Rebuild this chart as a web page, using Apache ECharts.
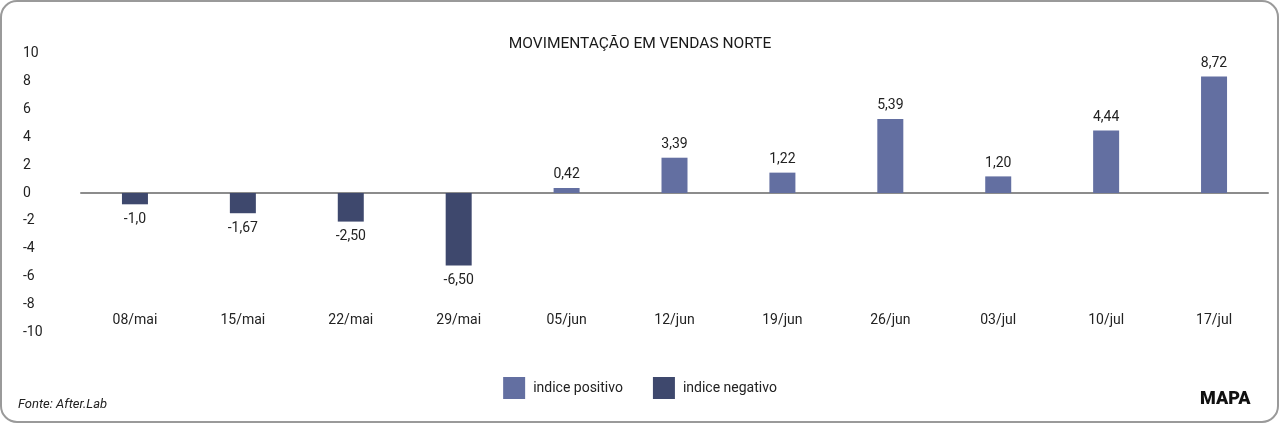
<!DOCTYPE html>
<html><head><meta charset="utf-8">
<script src="https://cdn.jsdelivr.net/npm/echarts@6/dist/echarts.min.js"></script>
<style>html,body{margin:0;padding:0;background:#fff}#c{width:1280px;height:424px}</style>
</head><body><div id="c"></div>
<script>
var categories = ['08/mai','15/mai','22/mai','29/mai','05/jun','12/jun','19/jun','26/jun','03/jul','10/jul','17/jul'];
// bar heights as drawn in the picture
var barValues = [-0.81,-1.45,-2.05,-5.2,0.36,2.53,1.46,5.31,1.19,4.48,8.36];
// value labels printed on the picture
var barLabels = ['-1,0','-1,67','-2,50','-6,50','0,42','3,39','1,22','5,39','1,20','4,44','8,72'];
var yMin = -10, yMax = 10, yStep = 2;

var posData = barValues.map(function(v){ return v >= 0 ? v : '-'; });
var negData = barValues.map(function(v){ return v < 0 ? v : '-'; });
var FONT = 'Roboto';

var chart = echarts.init(document.getElementById('c'));
chart.setOption({
  animation: false,
  textStyle: { fontFamily: FONT },
  title: { text: 'MOVIMENTAÇÃO EM VENDAS NORTE', left: 'center', top: 31,
    textStyle: { fontFamily: FONT, fontSize: 15.5, fontWeight: 'normal', color: '#1a1a1a' } },
  grid: { left: 81, right: 12, top: 53.5, bottom: 91.5, outerBoundsMode: 'none', containLabel: false },
  legend: { bottom: 20, left: 'center', itemWidth: 22, itemHeight: 22, itemGap: 30,
    icon: 'rect', textStyle: { fontFamily: FONT, fontSize: 14, color: '#222', padding: [0,0,0,3] },
    data: ['indice positivo','indice negativo'] },
  xAxis: [
    { type: 'category', data: categories,
      axisLine: { onZero: true, lineStyle: { color: '#8c8c8c', width: 2 } },
      axisTick: { show: false }, axisLabel: { show: false } },
    { type: 'category', data: categories, position: 'bottom', offset: -19,
      axisLine: { show: false, onZero: false }, axisTick: { show: false },
      axisLabel: { margin: 0, fontSize: 14, color: '#222', fontFamily: FONT } }
  ],
  yAxis: { type: 'value', min: yMin, max: yMax, interval: yStep,
    axisLine: { show: false }, axisTick: { show: false }, splitLine: { show: false },
    axisLabel: { align: 'left', margin: 58, fontSize: 14, color: '#222', fontFamily: FONT } },
  series: [
    { name: 'indice positivo', type: 'bar', stack: 's', data: posData, barWidth: 26,
      itemStyle: { color: '#636fa1' },
      label: { show: true, position: 'top', distance: 6, fontSize: 14, color: '#222', fontFamily: FONT,
        formatter: function(p){ return barLabels[p.dataIndex]; } } },
    { name: 'indice negativo', type: 'bar', stack: 's', data: negData, barWidth: 26,
      itemStyle: { color: '#3e486d' },
      label: { show: true, position: 'bottom', distance: 8, fontSize: 14, color: '#222', fontFamily: FONT,
        formatter: function(p){ return barLabels[p.dataIndex]; } } }
  ],
  graphic: [
    { type: 'rect', shape: { x: 1, y: 1, width: 1277, height: 421, r: 16 },
      style: { fill: 'none', stroke: '#9a9a9a', lineWidth: 2 }, silent: true },
    { type: 'text', left: 18, top: 398, style: { text: 'Fonte: After.Lab', fontFamily: FONT,
      fontSize: 13, fontStyle: 'italic', fill: '#222' } },
    { type: 'text', left: 1200, top: 390, style: { text: 'MAPA', fontFamily: FONT,
      fontSize: 18, fontWeight: 900, fill: '#111' } }
  ]
});
</script></body></html>
